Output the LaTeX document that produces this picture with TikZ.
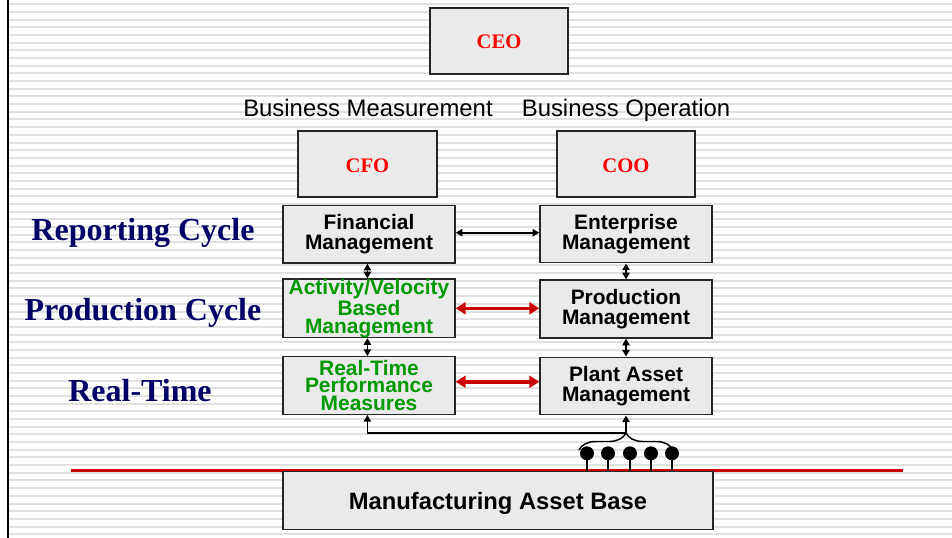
\documentclass[tikz,border=0pt]{standalone}
\usepackage{fontspec}
\setmainfont{Liberation Serif}
\setsansfont{Liberation Sans}
\usetikzlibrary{arrows.meta,decorations.pathreplacing}
\definecolor{boxfill}{HTML}{EAEAEA}
\definecolor{stripecol}{HTML}{E0E0E0}
\definecolor{darkred}{HTML}{CC0000}
\definecolor{brightred}{HTML}{FF0000}
\definecolor{navy}{HTML}{000066}
\definecolor{green}{HTML}{009900}
\begin{document}
\begin{tikzpicture}[x=0.75pt,y=-0.75pt,
  stripe/.style={stripecol,line width=1.5pt},
  box/.style={draw=black!85,line width=1.1pt,fill=boxfill,inner sep=0pt,align=center,
    minimum width=172*0.75pt,minimum height=57.5*0.75pt},
  exec/.style={box,minimum width=138*0.75pt,minimum height=66*0.75pt},
  exectxt/.style={anchor=base,inner sep=0pt,text=brightred,font=\rmfamily\bfseries\fontsize{15.5}{17}\selectfont},
  blktxt/.style={font=\sffamily\bfseries\fontsize{15.7}{15}\selectfont},
  grntxt/.style={text=green,font=\sffamily\bfseries\fontsize{15.7}{13.4}\selectfont},
  head/.style={anchor=base,inner sep=0pt,font=\sffamily\fontsize{17.9}{20}\selectfont},
  cyc/.style={anchor=base,inner sep=0pt,text=navy,font=\rmfamily\bfseries\fontsize{24}{26}\selectfont},
  blkarr/.style={line width=1.3pt,{Triangle[length=5pt,width=5.5pt]}-{Triangle[length=5pt,width=5.5pt]}},
  uparr/.style={line width=1.3pt,-{Triangle[length=5pt,width=5.5pt]}},
  redarr/.style={darkred,line width=2.6pt,{Triangle[length=7.5pt,width=9pt]}-{Triangle[length=7.5pt,width=9pt]}},
  dot/.style={circle,fill=black,inner sep=0pt,minimum size=14*0.75pt},
  stem/.style={line width=1.5pt}]
\useasboundingbox (0,0) rectangle (952,538);
\fill[white] (0,0) rectangle (952,538);
% striped background
\foreach \i in {0,...,69} \draw[stripe] (9,4.3+\i*7.68) -- (952,4.3+\i*7.68);
% left border
\draw[line width=2.1pt] (8,0) -- (8,538);

% executives
\node[exec] (ceo) at (499,41) {};
\node[exectxt] (ceot) at (499,49) {CEO};
\node[head] (bm) at (368,117) {Business Measurement};
\node[head] (bo) at (626,117) {Business Operation};
\node[exec,minimum width=139*0.75pt] (cfo) at (367.5,164) {};
\node[exectxt] (cfot) at (367.5,172.5) {CFO};
\node[exec] (coo) at (626,164) {};
\node[exectxt] (coot) at (626,172.5) {COO};

% cycle labels
\node[cyc] (rc) at (143,241) {Reporting Cycle};
\node[cyc] (pc) at (143,320) {Production Cycle};
\node[cyc] (rtl) at (140,401.5) {Real-Time};

% management boxes
\node[box,blktxt] (fm) at (369,234.3) {Financial\\Management};
\node[box,blktxt] (em) at (626,234) {Enterprise\\Management};
\node[box,grntxt,minimum height=58*0.75pt] (av) at (369,308.3) {Activity/Velocity\\Based\\Management};
\node[box,blktxt,minimum height=58*0.75pt] (pm) at (626,309) {Production\\Management};
\node[box,grntxt] (rt) at (369,385.5) {Real-Time\\Performance\\Measures};
\node[box,blktxt] (pa) at (626,386) {Plant Asset\\Management};

% horizontal connectors
\draw[blkarr] ([yshift=1.2pt]fm.east) -- ([yshift=1.2pt]fm.east -| em.west);
\draw[redarr] (av.east) -- (av.east -| pm.west);
\draw[redarr] ([yshift=2.8pt]rt.east) -- ([yshift=2.8pt]rt.east -| pa.west);

% vertical connectors
\draw[blkarr] ([xshift=-1.2pt]fm.south) -- ([xshift=-1.2pt]av.north);
\draw[blkarr] ([xshift=-1.2pt]av.south) -- ([xshift=-1.2pt]rt.north);
\draw[blkarr] (em.south) -- (pm.north);
\draw[blkarr] (pm.south) -- (pa.north);

% red line and asset base
\coordinate (rl1) at (71,470.5);
\coordinate (rl2) at (903,470.5);
\draw[darkred,line width=1.6pt] (rl1) -- (rl2);
\node[box,minimum width=430*0.75pt,minimum height=57.5*0.75pt] (mab) at (498,500.5) {};
\node[anchor=base,inner sep=0pt,font=\sffamily\bfseries\fontsize{17.8}{20}\selectfont] (mabt) at (498,509) {Manufacturing Asset Base};

% sensors
\foreach \x [count=\i] in {587,608,630,651,672} {
  \coordinate (s\i) at (\x,471);
  \node[dot] (c\i) at (\x,453.3) {};
  \draw[stem] (c\i.center) -- (s\i);
}
% brace and feedback
\coordinate (b1) at (579,450);
\coordinate (b2) at (673,450);
\draw[line width=1.1pt,decorate,decoration={brace,amplitude=12.75pt}] (b1) -- (b2);
\coordinate (j) at (626,433.3);
\draw[uparr] (j) -- (pa.south);
\draw[uparr] (j) -| ([xshift=-1.2pt]rt.south);
\end{tikzpicture}
\end{document}
